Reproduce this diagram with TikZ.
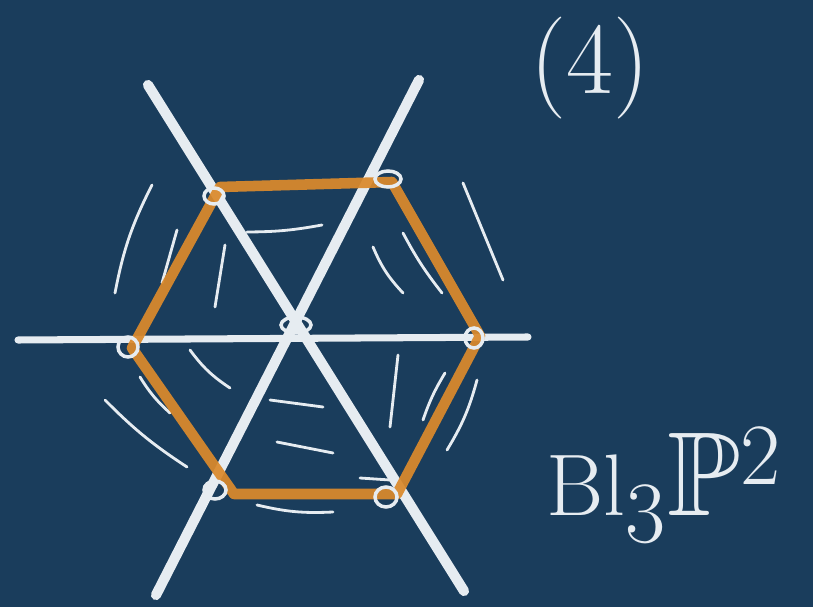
\documentclass[tikz,border=0pt]{standalone}
\usepackage{amsmath,amssymb}
\usepackage{xcolor}
\usepackage{tikz}
\usetikzlibrary{positioning,calc}
\definecolor{board}{HTML}{1A3D5C}
\definecolor{chalk}{HTML}{E6ECF1}
\definecolor{hexOrange}{HTML}{DB8A2C}

\begin{document}
\begin{tikzpicture}[x=0.01cm,y=-0.01cm,
  axis/.style={chalk,line width=2.9pt,line cap=round},
  hexedge/.style={hexOrange,line width=3pt,line join=round,opacity=0.93},
  hatch/.style={chalk,line width=0.8pt,line cap=round},
  loopmark/.style={chalk,line width=1pt},
  chalktext/.style={chalk,inner sep=0pt}]
\fill[board] (0,0) rectangle (813,607);
\useasboundingbox (0,0) rectangle (813,607);
% the three lines
\coordinate (h1) at (18,340);
\coordinate (h2) at (528,337);
\coordinate (d1) at (148,85);
\coordinate (d2) at (464,591);
\coordinate (e1) at (419,80);
\coordinate (e2) at (156,595);
\draw[axis,line width=2pt] (h1) -- (h2);
\draw[axis] (d1) -- (d2);
\draw[axis] (e1) -- (e2);
% hatching
\draw[hatch] (152,185) to[bend right=8] (115,293);
\draw[hatch] (177,230) -- (162,283);
\draw[hatch] (225,245) -- (215,307);
\draw[hatch] (247,232) to[bend right=5] (322,225);
\draw[hatch] (373,247) to[bend right=10] (403,293);
\draw[hatch] (403,233) to[bend right=5] (442,293);
\draw[hatch] (463,183) -- (503,280);
\draw[hatch] (190,350) to[bend right=10] (230,388);
\draw[hatch] (140,377) to[bend right=8] (170,413);
\draw[hatch] (105,400) to[bend right=6] (187,467);
\draw[hatch] (270,400) -- (323,407);
\draw[hatch] (277,442) -- (333,453);
\draw[hatch] (398,355) -- (390,427);
\draw[hatch] (445,373) to[bend right=6] (423,420);
\draw[hatch] (477,380) to[bend left=8] (447,450);
\draw[hatch] (257,505) to[bend right=8] (333,512);
\draw[hatch] (360,478) -- (390,480);
% hexagon
\coordinate (v1) at (220,187);
\coordinate (v2) at (392,182);
\coordinate (v3) at (480,336);
\coordinate (v4) at (397,494);
\coordinate (v5) at (234,494);
\coordinate (v6) at (132,348);
\draw[hexedge] (v1) -- (v2) -- (v3) -- (v4) -- (v5) -- (v6) -- cycle;
% little loops at the points
\draw[loopmark] (214,196) ellipse (10 and 8);
\draw[loopmark] (388,179) ellipse (13 and 8);
\draw[loopmark] (296,325) ellipse (15 and 8);
\draw[loopmark] (474,338) ellipse (9 and 10);
\draw[loopmark] (128,347) ellipse (10 and 10);
\draw[loopmark] (215,490) ellipse (11 and 9);
\draw[loopmark] (386,497) ellipse (11 and 10);
% labels
\node[chalktext,font=\fontsize{29}{32}\selectfont] (num) at (590,68) {(4)};
\node[chalktext,font=\fontsize{34}{37}\selectfont] (blowup) at (664,485) {$\mathrm{Bl}_3\mathbb{P}^2$};
\end{tikzpicture}
\end{document}
